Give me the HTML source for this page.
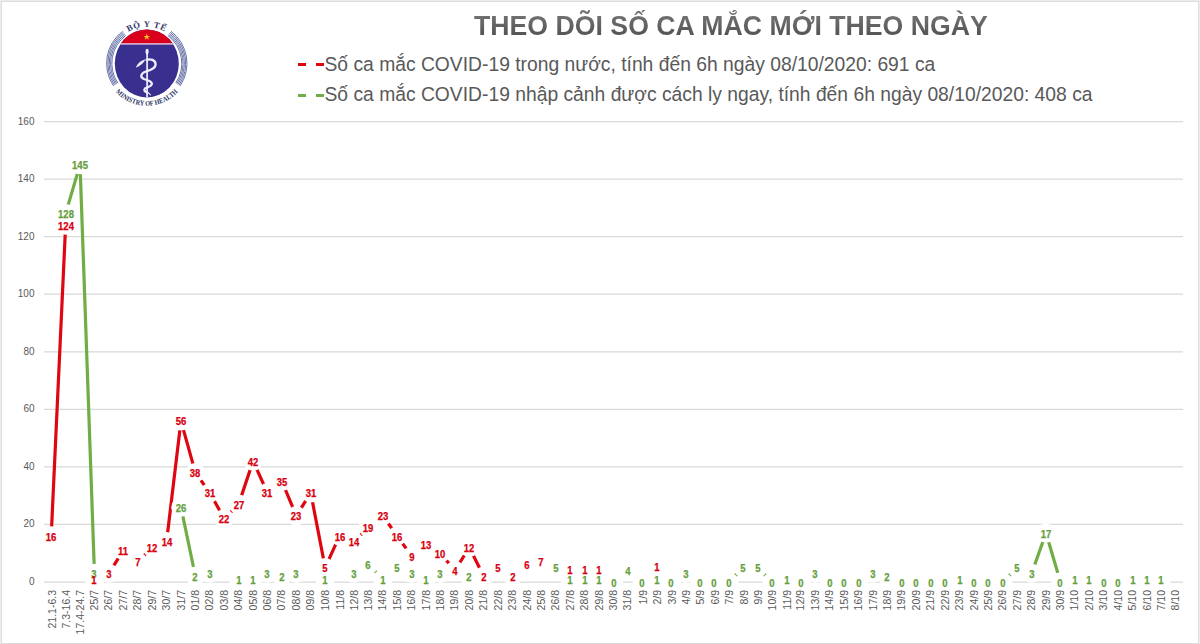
<!DOCTYPE html>
<html><head><meta charset="utf-8">
<style>
html,body{margin:0;padding:0;}
body{width:1200px;height:644px;position:relative;overflow:hidden;background:#fff;font-family:"Liberation Sans",sans-serif;}
.frame{position:absolute;left:0;top:0;width:1200px;height:644px;box-sizing:border-box;border:1px solid #ececec;}
.frame2{position:absolute;left:1px;top:1px;width:1198px;height:643px;box-sizing:border-box;border-left:1px solid #dcdcdc;border-top:1px solid #dcdcdc;border-right:1px solid #dcdcdc;border-bottom:1px solid #dcdcdc;}
svg.chart{position:absolute;left:0;top:0;}
.title{position:absolute;left:474px;top:6.6px;font-weight:bold;font-size:28.5px;transform:scaleX(0.936);color:transparent;background:linear-gradient(#707070 25%,#4c4c4c 95%);-webkit-background-clip:text;background-clip:text;white-space:nowrap;transform-origin:0 0;line-height:36px;}
.leg{position:absolute;left:324.5px;font-size:19.3px;color:#595959;white-space:nowrap;transform-origin:0 0;line-height:22px;}
.dash{position:absolute;height:3px;width:7.5px;}
.dl{position:absolute;font-weight:bold;line-height:18px;padding:0 2.5px;white-space:nowrap;}
.dl{font-size:10px;transform:translate(-50%,-50%) scaleX(0.95);margin-top:1.6px;-webkit-text-stroke:0.25px currentColor;}
.dl.r{color:#d8000f;}
.dl.g{color:#65a03c;}
.xl{position:absolute;top:590px;width:0;height:0;}
.xl{font-size:10.5px;color:#595959;}
.xl span{position:absolute;right:0;top:-6px;line-height:12px;white-space:nowrap;transform-origin:100% 50%;transform:rotate(-90deg);}
.yl{position:absolute;right:1165.5px;transform:translateY(-50%);font-size:10px;color:#595959;line-height:12px;}
.logo{position:absolute;left:97px;top:13px;width:100px;height:100px;}
</style></head><body>
<div class="frame"></div><div class="frame2"></div>
<svg class="logo" width="100" height="100" viewBox="97 13 100 100"><defs>
<clipPath id="ellclip"><ellipse cx="146.8" cy="63.4" rx="32" ry="34"/></clipPath>
<path id="toparc" d="M 112.41 50.88 A 36.6 36.6 0 0 1 181.19 50.88"/>
<path id="botarc" d="M 105.14 70.75 A 42.3 42.3 0 0 0 188.46 70.75"/>
</defs>
<g fill="none" stroke="#5d69a3" stroke-width="0.95">
<path d="M 117.78 82.97 A 35.0 35.0 0 0 1 125.74 35.45"/>
<path d="M 167.86 35.45 A 35.0 35.0 0 0 1 175.82 82.97"/>
<path d="M 116.71 83.70 A 36.3 36.3 0 0 1 124.95 34.41"/>
<path d="M 168.65 34.41 A 36.3 36.3 0 0 1 176.89 83.70"/>
<path d="M 115.63 84.43 A 37.6 37.6 0 0 1 124.17 33.37"/>
<path d="M 169.43 33.37 A 37.6 37.6 0 0 1 177.97 84.43"/>
<path d="M 114.55 85.15 A 38.9 38.9 0 0 1 123.39 32.33"/>
<path d="M 170.21 32.33 A 38.9 38.9 0 0 1 179.05 85.15"/>
<path d="M 113.47 85.88 A 40.2 40.2 0 0 1 122.61 31.29"/>
<path d="M 170.99 31.29 A 40.2 40.2 0 0 1 180.13 85.88"/>
</g>
<g clip-path="url(#ellclip)">
<rect x="110" y="25" width="75" height="80" fill="#382f8e"/>
<rect x="110" y="25" width="75" height="18.2" fill="#d8001d"/>
<rect x="110" y="43.1" width="75" height="1.6" fill="#e8b2d0"/>
</g>
<polygon points="146.8,33.5 147.6,35.9 150.1,35.9 148.1,37.4 148.9,39.8 146.8,38.3 144.7,39.8 145.5,37.4 143.5,35.9 146,35.9" fill="#ffc21a"/>
<path d="M 147.1 49 L 147.1 97.4" stroke="#eceeff" stroke-width="1.7" fill="none"/>
<ellipse cx="147.1" cy="51.5" rx="1.6" ry="2.8" fill="#eceeff"/>
<g fill="none" stroke="#eceeff" stroke-linecap="round">
<path d="M 146.5 60 C 150 58.3, 155.8 60, 155.6 64.5 C 155.4 68.5, 150.5 70, 146 71.5 C 140.5 73.2, 139.8 77.5, 144 79 C 148 80.3, 152.3 81.5, 151.8 84.2 C 151.4 86.8, 147 87, 145 88.5 C 143.5 89.8, 144.5 91.5, 147 92.5" stroke-width="2.3"/>
<path d="M 148 92.5 L 150.5 94.8" stroke-width="1.1"/>
</g>
<path d="M 135.8 67.8 Q 138.2 61.2 145.5 59.3 Q 142.5 65.5 135.8 67.8 Z" fill="#eceeff"/>
<text font-family="Liberation Serif" font-weight="bold" font-size="8.6" fill="#2b3462"><textPath href="#toparc" startOffset="50%" text-anchor="middle" letter-spacing="0.75">BỘ Y TẾ</textPath></text>
<text font-family="Liberation Serif" font-weight="bold" font-size="7.2" fill="#2b3462"><textPath href="#botarc" startOffset="50%" text-anchor="middle" textLength="70" lengthAdjust="spacingAndGlyphs">MINISTRY OF HEALTH</textPath></text>
</svg>
<div class="title" id="title">THEO DÕI SỐ CA MẮC MỚI THEO NGÀY</div>
<div class="dash" style="left:298px;top:63.2px;background:#de0610"></div>
<div class="dash" style="left:316px;top:63.2px;background:#de0610"></div>
<div class="leg" id="leg1" style="top:54px">Số ca mắc COVID-19 trong nước, tính đến 6h ngày 08/10/2020: 691 ca</div>
<div class="dash" style="left:298px;top:93.8px;background:#70ad47"></div>
<div class="dash" style="left:316px;top:93.8px;background:#70ad47"></div>
<div class="leg" id="leg2" style="top:84.3px">Số ca mắc COVID-19 nhập cảnh được cách ly ngay, tính đến 6h ngày 08/10/2020: 408 ca</div>
<div class="yl" style="top:582.00px">0</div>
<div class="yl" style="top:524.44px">20</div>
<div class="yl" style="top:466.88px">40</div>
<div class="yl" style="top:409.31px">60</div>
<div class="yl" style="top:351.75px">80</div>
<div class="yl" style="top:294.19px">100</div>
<div class="yl" style="top:236.62px">120</div>
<div class="yl" style="top:179.06px">140</div>
<div class="yl" style="top:121.50px">160</div>
<svg class="chart" width="1200" height="644" viewBox="0 0 1200 644">
<line x1="44.0" y1="582.00" x2="1183.0" y2="582.00" stroke="#d9d9d9" stroke-width="1.25"/>
<line x1="44.0" y1="524.44" x2="1183.0" y2="524.44" stroke="#d9d9d9" stroke-width="1.25"/>
<line x1="44.0" y1="466.88" x2="1183.0" y2="466.88" stroke="#d9d9d9" stroke-width="1.25"/>
<line x1="44.0" y1="409.31" x2="1183.0" y2="409.31" stroke="#d9d9d9" stroke-width="1.25"/>
<line x1="44.0" y1="351.75" x2="1183.0" y2="351.75" stroke="#d9d9d9" stroke-width="1.25"/>
<line x1="44.0" y1="294.19" x2="1183.0" y2="294.19" stroke="#d9d9d9" stroke-width="1.25"/>
<line x1="44.0" y1="236.62" x2="1183.0" y2="236.62" stroke="#d9d9d9" stroke-width="1.25"/>
<line x1="44.0" y1="179.06" x2="1183.0" y2="179.06" stroke="#d9d9d9" stroke-width="1.25"/>
<line x1="44.0" y1="121.50" x2="1183.0" y2="121.50" stroke="#d9d9d9" stroke-width="1.25"/>
<path d="M65.63,213.60 L80.04,164.67 L94.46,573.37 M180.97,507.17 L195.39,576.24 L209.80,573.37 M238.64,579.12 L253.06,579.12 L267.47,573.37 L281.89,576.24 L296.31,573.37 M353.98,573.37 L368.40,564.73 L382.82,579.12 L397.23,567.61 L411.65,573.37 L426.07,579.12 L440.49,573.37 M555.83,567.61 L570.25,579.12 L584.66,579.12 L599.08,579.12 L613.50,582.00 L627.92,570.49 L642.34,582.00 L656.75,579.12 L671.17,582.00 L685.59,573.37 L700.01,582.00 L714.42,582.00 L728.84,582.00 L743.26,567.61 L757.68,567.61 L772.09,582.00 L786.51,579.12 L800.93,582.00 L815.35,573.37 L829.77,582.00 L844.18,582.00 L858.60,582.00 L873.02,573.37 L887.44,576.24 L901.85,582.00 L916.27,582.00 L930.69,582.00 L945.11,582.00 L959.53,579.12 L973.94,582.00 L988.36,582.00 L1002.78,582.00 L1017.20,567.61 L1031.61,573.37 L1046.03,533.07 L1060.45,582.00 L1074.87,579.12 L1089.28,579.12 L1103.70,582.00 L1118.12,582.00 L1132.54,579.12 L1146.96,579.12 L1161.37,579.12" fill="none" stroke="#70ad47" stroke-width="3.2" stroke-linejoin="round"/>
<path d="M51.21,535.95 L65.63,225.11 M94.46,579.12 L108.88,573.37 L123.30,550.34 L137.72,561.85 L152.13,547.46 L166.55,541.71 L180.97,420.83 L195.39,472.63 L209.80,492.78 L224.22,518.68 L238.64,504.29 L253.06,461.12 L267.47,492.78 L281.89,481.27 L296.31,515.80 L310.73,492.78 L325.15,567.61 L339.56,535.95 L353.98,541.71 L368.40,527.32 L382.82,515.80 L397.23,535.95 L411.65,556.10 L426.07,544.58 L440.49,553.22 L454.91,570.49 L469.32,547.46 L483.74,576.24 L498.16,567.61 L512.58,576.24 L526.99,564.73 L541.41,561.85 M570.25,579.12 L584.66,579.12 L599.08,579.12" fill="none" stroke="#de0610" stroke-width="3.2" stroke-linejoin="round"/>
<circle cx="65.63" cy="213.60" r="9.7" fill="#fff"/>
<circle cx="80.04" cy="164.67" r="9.7" fill="#fff"/>
<circle cx="94.46" cy="573.37" r="9.7" fill="#fff"/>
<circle cx="180.97" cy="507.17" r="9.7" fill="#fff"/>
<circle cx="195.39" cy="576.24" r="9.7" fill="#fff"/>
<circle cx="209.80" cy="573.37" r="9.7" fill="#fff"/>
<circle cx="238.64" cy="579.12" r="9.7" fill="#fff"/>
<circle cx="253.06" cy="579.12" r="9.7" fill="#fff"/>
<circle cx="267.47" cy="573.37" r="9.7" fill="#fff"/>
<circle cx="281.89" cy="576.24" r="9.7" fill="#fff"/>
<circle cx="296.31" cy="573.37" r="9.7" fill="#fff"/>
<circle cx="325.15" cy="579.12" r="9.7" fill="#fff"/>
<circle cx="353.98" cy="573.37" r="9.7" fill="#fff"/>
<circle cx="368.40" cy="564.73" r="9.7" fill="#fff"/>
<circle cx="382.82" cy="579.12" r="9.7" fill="#fff"/>
<circle cx="397.23" cy="567.61" r="9.7" fill="#fff"/>
<circle cx="411.65" cy="573.37" r="9.7" fill="#fff"/>
<circle cx="426.07" cy="579.12" r="9.7" fill="#fff"/>
<circle cx="440.49" cy="573.37" r="9.7" fill="#fff"/>
<circle cx="469.32" cy="576.24" r="9.7" fill="#fff"/>
<circle cx="555.83" cy="567.61" r="9.7" fill="#fff"/>
<circle cx="570.25" cy="579.12" r="9.7" fill="#fff"/>
<circle cx="584.66" cy="579.12" r="9.7" fill="#fff"/>
<circle cx="599.08" cy="579.12" r="9.7" fill="#fff"/>
<circle cx="613.50" cy="582.00" r="9.7" fill="#fff"/>
<circle cx="627.92" cy="570.49" r="9.7" fill="#fff"/>
<circle cx="642.34" cy="582.00" r="9.7" fill="#fff"/>
<circle cx="656.75" cy="579.12" r="9.7" fill="#fff"/>
<circle cx="671.17" cy="582.00" r="9.7" fill="#fff"/>
<circle cx="685.59" cy="573.37" r="9.7" fill="#fff"/>
<circle cx="700.01" cy="582.00" r="9.7" fill="#fff"/>
<circle cx="714.42" cy="582.00" r="9.7" fill="#fff"/>
<circle cx="728.84" cy="582.00" r="9.7" fill="#fff"/>
<circle cx="743.26" cy="567.61" r="9.7" fill="#fff"/>
<circle cx="757.68" cy="567.61" r="9.7" fill="#fff"/>
<circle cx="772.09" cy="582.00" r="9.7" fill="#fff"/>
<circle cx="786.51" cy="579.12" r="9.7" fill="#fff"/>
<circle cx="800.93" cy="582.00" r="9.7" fill="#fff"/>
<circle cx="815.35" cy="573.37" r="9.7" fill="#fff"/>
<circle cx="829.77" cy="582.00" r="9.7" fill="#fff"/>
<circle cx="844.18" cy="582.00" r="9.7" fill="#fff"/>
<circle cx="858.60" cy="582.00" r="9.7" fill="#fff"/>
<circle cx="873.02" cy="573.37" r="9.7" fill="#fff"/>
<circle cx="887.44" cy="576.24" r="9.7" fill="#fff"/>
<circle cx="901.85" cy="582.00" r="9.7" fill="#fff"/>
<circle cx="916.27" cy="582.00" r="9.7" fill="#fff"/>
<circle cx="930.69" cy="582.00" r="9.7" fill="#fff"/>
<circle cx="945.11" cy="582.00" r="9.7" fill="#fff"/>
<circle cx="959.53" cy="579.12" r="9.7" fill="#fff"/>
<circle cx="973.94" cy="582.00" r="9.7" fill="#fff"/>
<circle cx="988.36" cy="582.00" r="9.7" fill="#fff"/>
<circle cx="1002.78" cy="582.00" r="9.7" fill="#fff"/>
<circle cx="1017.20" cy="567.61" r="9.7" fill="#fff"/>
<circle cx="1031.61" cy="573.37" r="9.7" fill="#fff"/>
<circle cx="1046.03" cy="533.07" r="9.7" fill="#fff"/>
<circle cx="1060.45" cy="582.00" r="9.7" fill="#fff"/>
<circle cx="1074.87" cy="579.12" r="9.7" fill="#fff"/>
<circle cx="1089.28" cy="579.12" r="9.7" fill="#fff"/>
<circle cx="1103.70" cy="582.00" r="9.7" fill="#fff"/>
<circle cx="1118.12" cy="582.00" r="9.7" fill="#fff"/>
<circle cx="1132.54" cy="579.12" r="9.7" fill="#fff"/>
<circle cx="1146.96" cy="579.12" r="9.7" fill="#fff"/>
<circle cx="1161.37" cy="579.12" r="9.7" fill="#fff"/>
<circle cx="51.21" cy="535.95" r="9.7" fill="#fff"/>
<circle cx="65.63" cy="225.11" r="9.7" fill="#fff"/>
<circle cx="94.46" cy="579.12" r="9.7" fill="#fff"/>
<circle cx="108.88" cy="573.37" r="9.7" fill="#fff"/>
<circle cx="123.30" cy="550.34" r="9.7" fill="#fff"/>
<circle cx="137.72" cy="561.85" r="9.7" fill="#fff"/>
<circle cx="152.13" cy="547.46" r="9.7" fill="#fff"/>
<circle cx="166.55" cy="541.71" r="9.7" fill="#fff"/>
<circle cx="180.97" cy="420.83" r="9.7" fill="#fff"/>
<circle cx="195.39" cy="472.63" r="9.7" fill="#fff"/>
<circle cx="209.80" cy="492.78" r="9.7" fill="#fff"/>
<circle cx="224.22" cy="518.68" r="9.7" fill="#fff"/>
<circle cx="238.64" cy="504.29" r="9.7" fill="#fff"/>
<circle cx="253.06" cy="461.12" r="9.7" fill="#fff"/>
<circle cx="267.47" cy="492.78" r="9.7" fill="#fff"/>
<circle cx="281.89" cy="481.27" r="9.7" fill="#fff"/>
<circle cx="296.31" cy="515.80" r="9.7" fill="#fff"/>
<circle cx="310.73" cy="492.78" r="9.7" fill="#fff"/>
<circle cx="325.15" cy="567.61" r="9.7" fill="#fff"/>
<circle cx="339.56" cy="535.95" r="9.7" fill="#fff"/>
<circle cx="353.98" cy="541.71" r="9.7" fill="#fff"/>
<circle cx="368.40" cy="527.32" r="9.7" fill="#fff"/>
<circle cx="382.82" cy="515.80" r="9.7" fill="#fff"/>
<circle cx="397.23" cy="535.95" r="9.7" fill="#fff"/>
<circle cx="411.65" cy="556.10" r="9.7" fill="#fff"/>
<circle cx="426.07" cy="544.58" r="9.7" fill="#fff"/>
<circle cx="440.49" cy="553.22" r="9.7" fill="#fff"/>
<circle cx="454.91" cy="570.49" r="9.7" fill="#fff"/>
<circle cx="469.32" cy="547.46" r="9.7" fill="#fff"/>
<circle cx="483.74" cy="576.24" r="9.7" fill="#fff"/>
<circle cx="498.16" cy="567.61" r="9.7" fill="#fff"/>
<circle cx="512.58" cy="576.24" r="9.7" fill="#fff"/>
<circle cx="526.99" cy="564.73" r="9.7" fill="#fff"/>
<circle cx="541.41" cy="561.85" r="9.7" fill="#fff"/>
<circle cx="570.25" cy="579.12" r="9.7" fill="#fff"/>
<circle cx="584.66" cy="579.12" r="9.7" fill="#fff"/>
<circle cx="599.08" cy="579.12" r="9.7" fill="#fff"/>
<circle cx="656.75" cy="579.12" r="9.7" fill="#fff"/>
</svg>
<div class="dl g" style="left:65.63px;top:213.60px">128</div>
<div class="dl g" style="left:80.04px;top:164.67px">145</div>
<div class="dl g" style="left:94.46px;top:573.37px">3</div>
<div class="dl g" style="left:180.97px;top:507.17px">26</div>
<div class="dl g" style="left:195.39px;top:576.24px">2</div>
<div class="dl g" style="left:209.80px;top:573.37px">3</div>
<div class="dl g" style="left:238.64px;top:579.12px">1</div>
<div class="dl g" style="left:253.06px;top:579.12px">1</div>
<div class="dl g" style="left:267.47px;top:573.37px">3</div>
<div class="dl g" style="left:281.89px;top:576.24px">2</div>
<div class="dl g" style="left:296.31px;top:573.37px">3</div>
<div class="dl g" style="left:325.15px;top:579.12px">1</div>
<div class="dl g" style="left:353.98px;top:573.37px">3</div>
<div class="dl g" style="left:368.40px;top:564.73px">6</div>
<div class="dl g" style="left:382.82px;top:579.12px">1</div>
<div class="dl g" style="left:397.23px;top:567.61px">5</div>
<div class="dl g" style="left:411.65px;top:573.37px">3</div>
<div class="dl g" style="left:426.07px;top:579.12px">1</div>
<div class="dl g" style="left:440.49px;top:573.37px">3</div>
<div class="dl g" style="left:469.32px;top:576.24px">2</div>
<div class="dl g" style="left:555.83px;top:567.61px">5</div>
<div class="dl g" style="left:570.25px;top:579.12px">1</div>
<div class="dl g" style="left:584.66px;top:579.12px">1</div>
<div class="dl g" style="left:599.08px;top:579.12px">1</div>
<div class="dl g" style="left:613.50px;top:582.00px">0</div>
<div class="dl g" style="left:627.92px;top:570.49px">4</div>
<div class="dl g" style="left:642.34px;top:582.00px">0</div>
<div class="dl g" style="left:656.75px;top:579.12px">1</div>
<div class="dl g" style="left:671.17px;top:582.00px">0</div>
<div class="dl g" style="left:685.59px;top:573.37px">3</div>
<div class="dl g" style="left:700.01px;top:582.00px">0</div>
<div class="dl g" style="left:714.42px;top:582.00px">0</div>
<div class="dl g" style="left:728.84px;top:582.00px">0</div>
<div class="dl g" style="left:743.26px;top:567.61px">5</div>
<div class="dl g" style="left:757.68px;top:567.61px">5</div>
<div class="dl g" style="left:772.09px;top:582.00px">0</div>
<div class="dl g" style="left:786.51px;top:579.12px">1</div>
<div class="dl g" style="left:800.93px;top:582.00px">0</div>
<div class="dl g" style="left:815.35px;top:573.37px">3</div>
<div class="dl g" style="left:829.77px;top:582.00px">0</div>
<div class="dl g" style="left:844.18px;top:582.00px">0</div>
<div class="dl g" style="left:858.60px;top:582.00px">0</div>
<div class="dl g" style="left:873.02px;top:573.37px">3</div>
<div class="dl g" style="left:887.44px;top:576.24px">2</div>
<div class="dl g" style="left:901.85px;top:582.00px">0</div>
<div class="dl g" style="left:916.27px;top:582.00px">0</div>
<div class="dl g" style="left:930.69px;top:582.00px">0</div>
<div class="dl g" style="left:945.11px;top:582.00px">0</div>
<div class="dl g" style="left:959.53px;top:579.12px">1</div>
<div class="dl g" style="left:973.94px;top:582.00px">0</div>
<div class="dl g" style="left:988.36px;top:582.00px">0</div>
<div class="dl g" style="left:1002.78px;top:582.00px">0</div>
<div class="dl g" style="left:1017.20px;top:567.61px">5</div>
<div class="dl g" style="left:1031.61px;top:573.37px">3</div>
<div class="dl g" style="left:1046.03px;top:533.07px">17</div>
<div class="dl g" style="left:1060.45px;top:582.00px">0</div>
<div class="dl g" style="left:1074.87px;top:579.12px">1</div>
<div class="dl g" style="left:1089.28px;top:579.12px">1</div>
<div class="dl g" style="left:1103.70px;top:582.00px">0</div>
<div class="dl g" style="left:1118.12px;top:582.00px">0</div>
<div class="dl g" style="left:1132.54px;top:579.12px">1</div>
<div class="dl g" style="left:1146.96px;top:579.12px">1</div>
<div class="dl g" style="left:1161.37px;top:579.12px">1</div>
<div class="dl r" style="left:51.21px;top:535.95px">16</div>
<div class="dl r" style="left:65.63px;top:225.11px">124</div>
<div class="dl r" style="left:94.46px;top:579.12px">1</div>
<div class="dl r" style="left:108.88px;top:573.37px">3</div>
<div class="dl r" style="left:123.30px;top:550.34px">11</div>
<div class="dl r" style="left:137.72px;top:561.85px">7</div>
<div class="dl r" style="left:152.13px;top:547.46px">12</div>
<div class="dl r" style="left:166.55px;top:541.71px">14</div>
<div class="dl r" style="left:180.97px;top:420.83px">56</div>
<div class="dl r" style="left:195.39px;top:472.63px">38</div>
<div class="dl r" style="left:209.80px;top:492.78px">31</div>
<div class="dl r" style="left:224.22px;top:518.68px">22</div>
<div class="dl r" style="left:238.64px;top:504.29px">27</div>
<div class="dl r" style="left:253.06px;top:461.12px">42</div>
<div class="dl r" style="left:267.47px;top:492.78px">31</div>
<div class="dl r" style="left:281.89px;top:481.27px">35</div>
<div class="dl r" style="left:296.31px;top:515.80px">23</div>
<div class="dl r" style="left:310.73px;top:492.78px">31</div>
<div class="dl r" style="left:325.15px;top:567.61px">5</div>
<div class="dl r" style="left:339.56px;top:535.95px">16</div>
<div class="dl r" style="left:353.98px;top:541.71px">14</div>
<div class="dl r" style="left:368.40px;top:527.32px">19</div>
<div class="dl r" style="left:382.82px;top:515.80px">23</div>
<div class="dl r" style="left:397.23px;top:535.95px">16</div>
<div class="dl r" style="left:411.65px;top:556.10px">9</div>
<div class="dl r" style="left:426.07px;top:544.58px">13</div>
<div class="dl r" style="left:440.49px;top:553.22px">10</div>
<div class="dl r" style="left:454.91px;top:570.49px">4</div>
<div class="dl r" style="left:469.32px;top:547.46px">12</div>
<div class="dl r" style="left:483.74px;top:576.24px">2</div>
<div class="dl r" style="left:498.16px;top:567.61px">5</div>
<div class="dl r" style="left:512.58px;top:576.24px">2</div>
<div class="dl r" style="left:526.99px;top:564.73px">6</div>
<div class="dl r" style="left:541.41px;top:561.85px">7</div>
<div class="dl r" style="left:570.25px;top:569.00px">1</div>
<div class="dl r" style="left:584.66px;top:569.00px">1</div>
<div class="dl r" style="left:599.08px;top:569.00px">1</div>
<div class="dl r" style="left:656.75px;top:566.70px">1</div>
<div id="xls">
<div class="xl" style="left:51.21px"><span>21.1-6.3</span></div>
<div class="xl" style="left:65.63px"><span>7.3-16.4</span></div>
<div class="xl" style="left:80.04px"><span>17.4-24.7</span></div>
<div class="xl" style="left:94.46px"><span>25/7</span></div>
<div class="xl" style="left:108.88px"><span>26/7</span></div>
<div class="xl" style="left:123.30px"><span>27/7</span></div>
<div class="xl" style="left:137.72px"><span>28/7</span></div>
<div class="xl" style="left:152.13px"><span>29/7</span></div>
<div class="xl" style="left:166.55px"><span>30/7</span></div>
<div class="xl" style="left:180.97px"><span>31/7</span></div>
<div class="xl" style="left:195.39px"><span>01/8</span></div>
<div class="xl" style="left:209.80px"><span>02/8</span></div>
<div class="xl" style="left:224.22px"><span>03/8</span></div>
<div class="xl" style="left:238.64px"><span>04/8</span></div>
<div class="xl" style="left:253.06px"><span>05/8</span></div>
<div class="xl" style="left:267.47px"><span>06/8</span></div>
<div class="xl" style="left:281.89px"><span>07/8</span></div>
<div class="xl" style="left:296.31px"><span>08/8</span></div>
<div class="xl" style="left:310.73px"><span>09/8</span></div>
<div class="xl" style="left:325.15px"><span>10/8</span></div>
<div class="xl" style="left:339.56px"><span>11/8</span></div>
<div class="xl" style="left:353.98px"><span>12/8</span></div>
<div class="xl" style="left:368.40px"><span>13/8</span></div>
<div class="xl" style="left:382.82px"><span>14/8</span></div>
<div class="xl" style="left:397.23px"><span>15/8</span></div>
<div class="xl" style="left:411.65px"><span>16/8</span></div>
<div class="xl" style="left:426.07px"><span>17/8</span></div>
<div class="xl" style="left:440.49px"><span>18/8</span></div>
<div class="xl" style="left:454.91px"><span>19/8</span></div>
<div class="xl" style="left:469.32px"><span>20/8</span></div>
<div class="xl" style="left:483.74px"><span>21/8</span></div>
<div class="xl" style="left:498.16px"><span>22/8</span></div>
<div class="xl" style="left:512.58px"><span>23/8</span></div>
<div class="xl" style="left:526.99px"><span>24/8</span></div>
<div class="xl" style="left:541.41px"><span>25/8</span></div>
<div class="xl" style="left:555.83px"><span>26/8</span></div>
<div class="xl" style="left:570.25px"><span>27/8</span></div>
<div class="xl" style="left:584.66px"><span>28/8</span></div>
<div class="xl" style="left:599.08px"><span>29/8</span></div>
<div class="xl" style="left:613.50px"><span>30/8</span></div>
<div class="xl" style="left:627.92px"><span>31/8</span></div>
<div class="xl" style="left:642.34px"><span>1/9</span></div>
<div class="xl" style="left:656.75px"><span>2/9</span></div>
<div class="xl" style="left:671.17px"><span>3/9</span></div>
<div class="xl" style="left:685.59px"><span>4/9</span></div>
<div class="xl" style="left:700.01px"><span>5/9</span></div>
<div class="xl" style="left:714.42px"><span>6/9</span></div>
<div class="xl" style="left:728.84px"><span>7/9</span></div>
<div class="xl" style="left:743.26px"><span>8/9</span></div>
<div class="xl" style="left:757.68px"><span>9/9</span></div>
<div class="xl" style="left:772.09px"><span>10/9</span></div>
<div class="xl" style="left:786.51px"><span>11/9</span></div>
<div class="xl" style="left:800.93px"><span>12/9</span></div>
<div class="xl" style="left:815.35px"><span>13/9</span></div>
<div class="xl" style="left:829.77px"><span>14/9</span></div>
<div class="xl" style="left:844.18px"><span>15/9</span></div>
<div class="xl" style="left:858.60px"><span>16/9</span></div>
<div class="xl" style="left:873.02px"><span>17/9</span></div>
<div class="xl" style="left:887.44px"><span>18/9</span></div>
<div class="xl" style="left:901.85px"><span>19/9</span></div>
<div class="xl" style="left:916.27px"><span>20/9</span></div>
<div class="xl" style="left:930.69px"><span>21/9</span></div>
<div class="xl" style="left:945.11px"><span>22/9</span></div>
<div class="xl" style="left:959.53px"><span>23/9</span></div>
<div class="xl" style="left:973.94px"><span>24/9</span></div>
<div class="xl" style="left:988.36px"><span>25/9</span></div>
<div class="xl" style="left:1002.78px"><span>26/9</span></div>
<div class="xl" style="left:1017.20px"><span>27/9</span></div>
<div class="xl" style="left:1031.61px"><span>28/9</span></div>
<div class="xl" style="left:1046.03px"><span>29/9</span></div>
<div class="xl" style="left:1060.45px"><span>30/9</span></div>
<div class="xl" style="left:1074.87px"><span>1/10</span></div>
<div class="xl" style="left:1089.28px"><span>2/10</span></div>
<div class="xl" style="left:1103.70px"><span>3/10</span></div>
<div class="xl" style="left:1118.12px"><span>4/10</span></div>
<div class="xl" style="left:1132.54px"><span>5/10</span></div>
<div class="xl" style="left:1146.96px"><span>6/10</span></div>
<div class="xl" style="left:1161.37px"><span>7/10</span></div>
<div class="xl" style="left:1175.79px"><span>8/10</span></div>
</div>
</body></html>
